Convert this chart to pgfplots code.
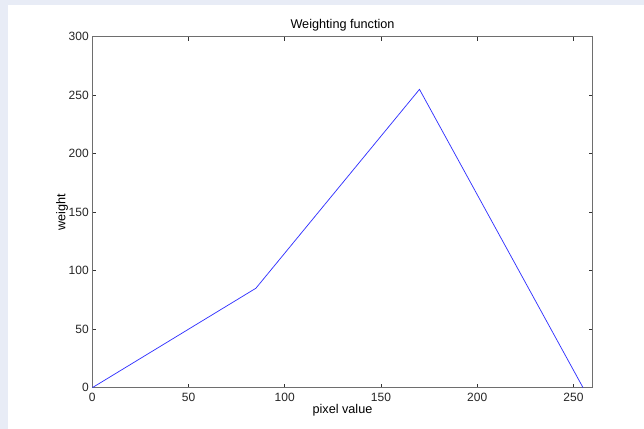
\documentclass[border=0pt]{standalone}
\usepackage{pgfplots}
\pgfplotsset{compat=1.18}
\usepackage{fontspec}
\setmainfont{Liberation Sans}
\definecolor{bgframe}{RGB}{232,236,246}
\definecolor{axgray}{RGB}{110,110,110}
\definecolor{lineblue}{RGB}{50,50,255}
\begin{document}
\begin{tikzpicture}
% page: 644x429 px at 0.75pt/px; axis box lower-left at px (92.3,387.7)
\fill[bgframe] (-69.225pt,-30.975pt) rectangle (413.775pt,290.775pt);
\fill[white] (-63.225pt,-30.975pt) rectangle (413.775pt,287.025pt);
\begin{axis}[
  at={(0pt,0pt)}, anchor=south west,
  scale only axis,
  width=375.3pt, height=263.25pt,
  xmin=0, xmax=260, ymin=0, ymax=300,
  xtick={0,50,100,150,200,250},
  ytick={0,50,100,150,200,250,300},
  /pgf/number format/assume math mode=true,
  tick align=inside,
  major tick length=3pt,
  tick style={color=black!80, line width=0.5pt},
  axis line style={color=axgray, line width=0.7pt},
  every tick label/.append style={font=\fontsize{9}{10}\selectfont, text=black!85},
  yticklabel style={inner sep=0pt, xshift=-2.5pt},
  xticklabel style={inner sep=0pt, yshift=-4pt},
  every axis title shift=0pt,
  title={Weighting function},
  title style={at={(axis description cs:0.5,1.0236)}, anchor=base, font=\fontsize{9.5}{11}\selectfont, inner sep=0pt},
  xlabel={pixel value},
  ylabel={weight},
  xlabel style={at={(axis description cs:0.5,-0.0748)}, anchor=base, font=\fontsize{9.5}{11}\selectfont, inner sep=0pt},
  ylabel style={at={(axis description cs:-0.0536,0.5)}, anchor=base, font=\fontsize{9.5}{11}\selectfont, inner sep=0pt},
]
\addplot[color=lineblue, line width=0.55pt, mark=none] coordinates {
  (0,0) (85,85) (170,255) (255,0)
};
\end{axis}
\end{tikzpicture}
\end{document}
